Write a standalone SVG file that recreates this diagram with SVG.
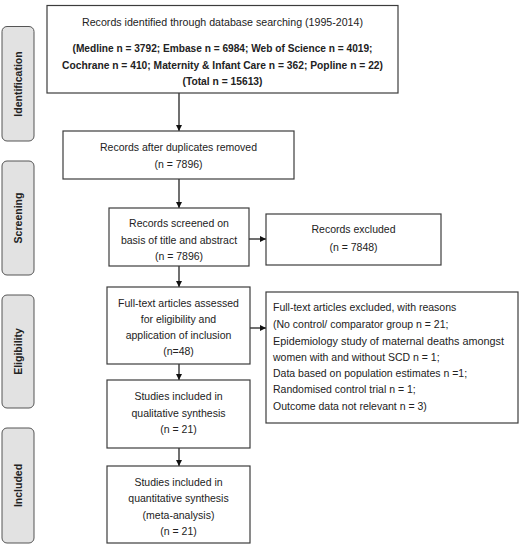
<svg xmlns="http://www.w3.org/2000/svg" width="520" height="544" viewBox="0 0 520 544">
<style>
.box{fill:#fff;stroke:#3c3c3c;stroke-width:1.2}
.side{fill:#e2e2e2;stroke:#555;stroke-width:1}
.t{font-family:"Liberation Sans",Arial,sans-serif;font-size:10.5px;fill:#222;text-anchor:middle}
.b{font-weight:bold}
.l{text-anchor:start}
.st{font-family:"Liberation Sans",Arial,sans-serif;font-size:10.5px;font-weight:bold;fill:#222;text-anchor:middle}
.c{stroke:#111;stroke-width:1.2;fill:none;marker-end:url(#ah)}
</style>
<defs>
<marker id="ah" viewBox="0 0 10 10" refX="10" refY="5" markerWidth="6" markerHeight="6" markerUnits="userSpaceOnUse" orient="auto">
<path d="M0,0 L10,5 L0,10 z" fill="#111"/>
</marker>
</defs>
<rect width="520" height="544" fill="#fff"/>
<g id="side-identification">
<rect class="side" x="2" y="26.5" width="32" height="114.5" rx="5"/>
<text class="st" transform="translate(18,84) rotate(-90)" dy="3.5">Identification</text>
</g>
<g id="side-screening">
<rect class="side" x="2" y="161" width="32" height="114" rx="5"/>
<text class="st" transform="translate(18,218) rotate(-90)" dy="3.5">Screening</text>
</g>
<g id="side-eligibility">
<rect class="side" x="2" y="295" width="32" height="113" rx="5"/>
<text class="st" transform="translate(18,351.5) rotate(-90)" dy="3.5">Eligibility</text>
</g>
<g id="side-included">
<rect class="side" x="2" y="428" width="32" height="115" rx="5"/>
<text class="st" transform="translate(18,485.5) rotate(-90)" dy="3.5">Included</text>
</g>
<g id="connectors">
<line class="c" x1="179" y1="93" x2="179" y2="131"/>
<line class="c" x1="179" y1="179" x2="179" y2="208"/>
<line class="c" x1="249" y1="239" x2="266" y2="239"/>
<line class="c" x1="179" y1="266" x2="179" y2="287"/>
<line class="c" x1="250" y1="328" x2="266" y2="328"/>
<line class="c" x1="179" y1="364" x2="179" y2="380"/>
<line class="c" x1="179" y1="448" x2="179" y2="466"/>
</g>
<g id="n-identified">
<rect class="box" x="47" y="5.5" width="351" height="87.5"/>
<text class="t" x="222.5" y="25.5" textLength="281" lengthAdjust="spacingAndGlyphs">Records identified through database searching (1995-2014)</text>
<text class="t b" x="222.5" y="52" textLength="300" lengthAdjust="spacingAndGlyphs">(Medline n = 3792; Embase n = 6984; Web of Science n = 4019;</text>
<text class="t b" x="222.5" y="68.5" textLength="321" lengthAdjust="spacingAndGlyphs">Cochrane n = 410; Maternity &amp; Infant Care n = 362; Popline n = 22)</text>
<text class="t b" x="222.5" y="85" textLength="80" lengthAdjust="spacingAndGlyphs">(Total n = 15613)</text>
</g>
<g id="n-duplicates">
<rect class="box" x="63" y="131" width="231" height="48"/>
<text class="t" x="178.5" y="151">Records after duplicates removed</text>
<text class="t" x="178.5" y="168">(n = 7896)</text>
</g>
<g id="n-screened">
<rect class="box" x="109" y="208" width="140" height="58"/>
<text class="t" x="179" y="227">Records screened on</text>
<text class="t" x="179" y="244">basis of title and abstract</text>
<text class="t" x="179" y="260">(n = 7896)</text>
</g>
<g id="n-excluded">
<rect class="box" x="266" y="214" width="175" height="51"/>
<text class="t" x="353.5" y="233">Records excluded</text>
<text class="t" x="353.5" y="250.5">(n = 7848)</text>
</g>
<g id="n-fulltext">
<rect class="box" x="107" y="287" width="143" height="77"/>
<text class="t" x="178.5" y="306.5">Full-text articles assessed</text>
<text class="t" x="178.5" y="323">for eligibility and</text>
<text class="t" x="178.5" y="339">application of inclusion</text>
<text class="t" x="178.5" y="355">(n=48)</text>
</g>
<g id="n-reasons">
<rect class="box" x="266" y="292" width="252" height="131"/>
<text class="t l" x="273" y="311">Full-text articles excluded, with reasons</text>
<text class="t l" x="273" y="327.5">(No control/ comparator group n = 21;</text>
<text class="t l" x="273" y="344.5" textLength="231" lengthAdjust="spacingAndGlyphs">Epidemiology study of maternal deaths amongst</text>
<text class="t l" x="273" y="361">women with and without SCD n = 1;</text>
<text class="t l" x="273" y="377">Data based on population estimates n =1;</text>
<text class="t l" x="273" y="393">Randomised control trial n = 1;</text>
<text class="t l" x="273" y="409.5">Outcome data not relevant n = 3)</text>
</g>
<g id="n-qualitative">
<rect class="box" x="107" y="380" width="143" height="68"/>
<text class="t" x="178.5" y="400">Studies included in</text>
<text class="t" x="178.5" y="416.5">qualitative synthesis</text>
<text class="t" x="178.5" y="433">(n = 21)</text>
</g>
<g id="n-quantitative">
<rect class="box" x="107" y="466" width="143" height="77"/>
<text class="t" x="178.5" y="485.5">Studies included in</text>
<text class="t" x="178.5" y="502">quantitative synthesis</text>
<text class="t" x="178.5" y="518.5">(meta-analysis)</text>
<text class="t" x="178.5" y="535">(n = 21)</text>
</g>
</svg>
